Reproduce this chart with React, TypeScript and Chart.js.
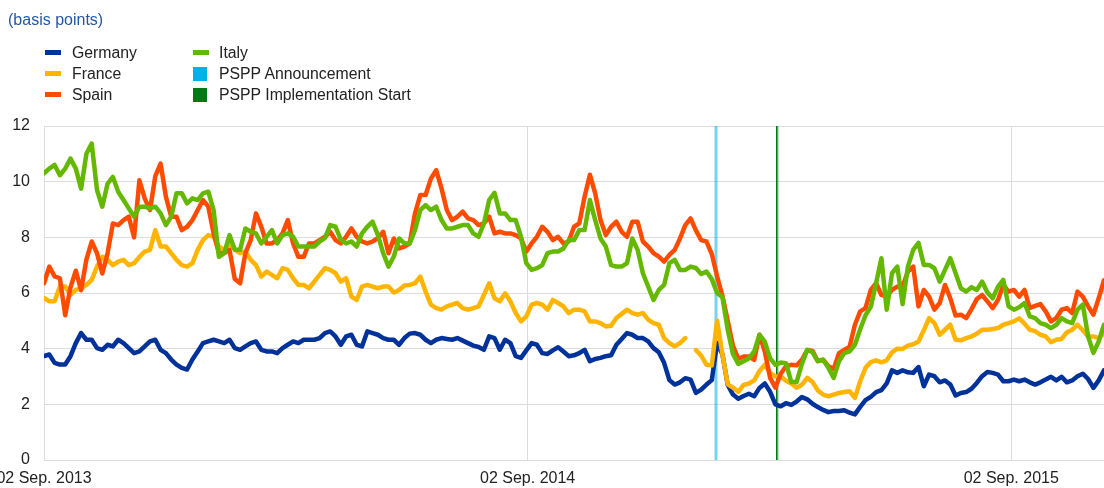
import React, { useEffect, useRef } from 'react';
import { Chart, registerables } from 'chart.js';

Chart.register(...registerables);

// X axis: days since 02 Sep. 2013, one sample every 4 days
const STEP_DAYS = 4;
const X_MAX_DAYS = 800;
const TICK_DAYS = [0, 365, 730];
const TICK_LABELS = ['02 Sep. 2013', '02 Sep. 2014', '02 Sep. 2015'];
const PSPP_ANNOUNCEMENT_DAY = 507; // 22 Jan. 2015
const PSPP_IMPLEMENTATION_DAY = 553; // 09 Mar. 2015

const germany = [
  3.73, 3.79, 3.49, 3.43, 3.43, 3.73, 4.2, 4.56, 4.32, 4.32, 4.02, 3.96, 4.14, 4.08, 4.32, 4.2, 4.02, 3.84, 3.9, 4.08,
  4.26, 4.32, 3.96, 3.84, 3.61, 3.43, 3.31, 3.25, 3.61, 3.9, 4.2, 4.26, 4.32, 4.26, 4.2, 4.32, 4.02, 3.96, 4.08, 4.2,
  4.26, 3.96, 3.9, 3.9, 3.84, 4.02, 4.14, 4.26, 4.2, 4.32, 4.32, 4.32, 4.38, 4.56, 4.62, 4.44, 4.14, 4.44, 4.5, 4.14,
  4.08, 4.62, 4.56, 4.5,
  4.38, 4.32, 4.32, 4.14, 4.38, 4.54, 4.56, 4.5, 4.32, 4.2, 4.32, 4.38, 4.35, 4.32, 4.38, 4.29, 4.2, 4.11, 4.06, 3.96,
  4.44, 4.38, 3.96, 4.32, 4.2, 3.73, 3.67, 3.94, 4.2, 4.14, 3.84, 3.81, 3.94, 4.05, 3.9, 3.73, 3.76, 3.84, 3.96, 3.55,
  3.63, 3.67, 3.73, 3.76, 4.14, 4.35, 4.56, 4.5, 4.38, 4.38, 4.26, 4.02, 3.87, 3.49, 2.87, 2.71, 2.79, 2.94, 2.89, 2.41,
  2.53, 2.71, 2.87,
  4.2, 3.8, 2.7, 2.35, 2.2, 2.3, 2.38, 2.29, 2.59, 2.75, 2.45, 2.0, 1.93, 2.04, 1.98, 2.1, 2.26, 2.18, 2.02, 1.9, 1.8,
  1.72, 1.76, 1.76, 1.79, 1.7, 1.64, 1.91, 2.15, 2.27, 2.44, 2.51, 2.75, 3.22, 3.13, 3.22, 3.15, 3.13, 3.34, 2.65, 3.07,
  3.01, 2.79, 2.86, 2.71, 2.32, 2.41, 2.44, 2.56, 2.77, 3.01, 3.16, 3.13, 3.07, 2.83, 2.83, 2.89, 2.83, 2.89, 2.79, 2.71,
  2.79, 2.89, 2.99, 2.86, 2.99, 2.79, 2.86, 3.01, 3.1, 2.91, 2.59, 2.86, 3.22,
];

const france = [
  5.82, 5.7, 5.7, 6.23, 6.23, 5.93, 6.11, 6.17, 6.29, 6.47, 6.95, 7.3, 7.19, 7.0, 7.13, 7.19, 7.0, 7.07, 7.3, 7.49,
  7.55, 8.26, 7.67, 7.67, 7.43, 7.19, 7.0, 6.95, 7.07, 7.55, 7.9, 8.08, 8.02, 7.67, 7.55, 7.78, 7.55, 7.43, 7.49, 7.19,
  7.0, 6.59, 6.77, 6.65, 6.53, 6.89, 6.83, 6.53, 6.29, 6.29, 6.17, 6.41, 6.65, 6.89, 6.83, 6.71, 6.41, 6.53, 5.87, 5.75,
  6.23, 6.29, 6.23, 6.17,
  6.23, 6.23, 6.02, 6.11, 6.27, 6.29, 6.35, 6.59, 6.05, 5.58, 5.46, 5.4, 5.52, 5.58, 5.64, 5.46, 5.4, 5.46, 5.52, 5.93,
  6.35, 5.81, 5.7, 5.99, 5.7, 5.28, 4.98, 5.16, 5.58, 5.64, 5.58, 5.4, 5.75, 5.64, 5.52, 5.28, 5.4, 5.4, 5.34, 4.98,
  4.98, 4.92, 4.8, 4.82, 5.1, 5.25, 5.4, 5.28, 5.22, 5.28, 5.04, 4.92, 4.86, 4.38, 4.2, 4.08, 4.2, 4.38, null, 3.95,
  3.75, 3.42, 3.4,
  5.0, 3.8, 2.72, 2.6, 2.45, 2.7, 2.75, 2.86, 3.2, 3.42, 3.12, 3.0, 3.0, 2.85, 2.75, 2.6, 2.7, 2.95, 2.8, 2.5, 2.35,
  2.29, 2.35, 2.41, 2.44, 2.47, 2.23, 2.83, 3.31, 3.52, 3.58, 3.51, 3.58, 3.87, 4.0, 3.99, 4.11, 4.16, 4.26, 4.66, 5.1,
  4.92, 4.5, 4.68, 4.86, 4.32, 4.3, 4.38, 4.44, 4.54, 4.68, 4.68, 4.71, 4.74, 4.86, 4.92, 4.98, 5.09, 4.9, 4.68, 4.63,
  4.5, 4.44, 4.23, 4.32, 4.35, 4.59, 4.68, 4.86, 4.66, 4.44, 4.44, 4.38, 4.56,
];

const spain = [
  6.35, 6.95, 6.6, 6.53, 5.2, 6.2, 6.8, 6.1, 7.2, 7.85, 7.43, 6.7, 7.43, 8.5, 8.44, 8.62, 8.74, 8.0, 10.05, 9.4,
  8.98, 10.2, 10.65, 9.46, 8.74, 8.74, 8.26, 8.38, 8.62, 8.98, 9.34, 9.1, 8.14, 7.43, 7.43, 7.55, 6.5, 6.35, 7.43, 7.9,
  8.86, 8.38, 7.78, 7.78, 7.9, 8.14, 8.62, 7.78, 7.3, 7.3, 7.78, 7.78, 7.9, 8.02, 8.2, 7.9, 7.78, 8.02, 8.32, 8.02,
  7.85, 7.78, 7.85, 7.97,
  8.2, 7.43, 7.96, 7.6, 7.67, 7.78, 8.86, 9.52, 9.52, 10.11, 10.41, 9.76, 8.98, 8.62, 8.74, 8.92, 8.68, 8.62, 8.44, 8.5,
  8.74, 8.14, 8.2, 8.14, 8.14, 8.08, 7.96, 7.49, 7.78, 8.02, 8.38, 8.2, 7.9, 8.02, 7.78, 7.85, 8.38, 8.5, 9.46, 10.25,
  9.58, 8.62, 8.08, 8.38, 8.56, 8.2, 8.02, 8.56, 8.56, 7.85, 7.67, 7.43, 7.31, 7.13, 7.37, 7.55, 7.96, 8.44, 8.68, 8.25,
  7.9, 7.85, 7.4,
  6.6, 5.9, 5.0, 4.1, 3.63, 3.72, 3.72, 3.6, 4.5, 3.9, 2.95, 2.6, 3.1, 3.37, 3.42, 3.4, 3.6, 3.95, 3.92, 3.55, 3.6,
  3.37, 3.27, 3.84, 3.96, 4.06, 4.86, 5.34, 5.46, 6.11, 6.35, 5.93, 5.87, 6.11, 6.23, 6.23, 6.77, 6.95, 5.52, 6.11, 5.87,
  5.4, 5.64, 6.29, 5.81, 5.19, 5.22, 5.1, 5.42, 5.78, 5.93, 5.7, 5.46, 5.75, 6.29, 6.05, 6.11, 5.87, 6.11, 5.46, 5.54,
  5.6, 5.34, 4.98, 5.1, 5.4, 5.46, 5.28, 6.05, 5.87, 5.52, 5.22, 5.81, 6.46,
];

const italy = [
  10.3, 10.47, 10.6, 10.23, 10.47, 10.83, 10.47, 9.75, 11.0, 11.37, 9.7, 9.1, 9.93, 10.17, 9.64, 9.34, 9.04, 8.74, 9.1, 9.1,
  9.04, 9.1, 8.86, 8.44, 8.74, 9.58, 9.58, 9.22, 9.4, 9.34, 9.58, 9.64, 8.98, 7.3, 7.43, 8.08, 7.55, 7.55, 8.32, 8.2,
  8.14, 7.78, 8.02, 8.26, 7.78, 8.08, 8.14, 8.02, 7.67, 7.67, 7.67, 7.67, 7.85, 7.97, 8.44, 8.38, 7.92, 7.78, 7.85, 7.67,
  8.14, 8.38, 8.56, 8.08,
  7.43, 6.95, 7.31, 7.96, 7.78, 7.78, 8.26, 8.98, 9.16, 8.98, 9.1, 8.62, 8.32, 8.32, 8.38, 8.44, 8.44, 8.14, 8.02, 8.5,
  9.34, 9.6, 8.86, 8.86, 8.62, 8.62, 8.02, 7.07, 6.83, 6.89, 7.0, 7.43, 7.49, 7.49, 7.6, 7.9, 7.9, 8.26, 8.26, 9.34,
  8.62, 7.96, 7.67, 7.0, 6.95, 6.95, 7.07, 7.96, 7.55, 6.71, 6.23, 5.75, 6.11, 6.29, 7.07, 7.19, 6.83, 6.83, 6.95, 6.9,
  6.68, 6.77, 6.5,
  6.0, 5.85, 4.68, 3.8, 3.45, 3.55, 3.65, 3.9, 4.5, 4.25, 3.65, 3.42, 3.5, 3.48, 2.8, 2.8, 3.45, 3.96, 3.87, 3.55, 3.6,
  3.31, 2.95, 3.55, 3.84, 3.9, 4.14, 4.7, 5.2, 5.5, 6.35, 7.25, 5.4, 6.71, 6.95, 5.6, 6.95, 7.55, 7.8, 7.01, 7.01,
  6.89, 6.41, 6.83, 7.25, 6.71, 6.17, 6.05, 6.21, 6.11, 6.41, 6.02, 5.81, 6.23, 6.47, 5.52, 5.4, 5.49, 5.64, 5.16, 5.1,
  4.92, 4.86, 4.74, 4.86, 5.1, 4.98, 4.92, 5.4, 5.58, 4.44, 3.85, 4.26, 4.86,
];

const COLORS = {
  germany: '#003299',
  france: '#ffb400',
  spain: '#ff4b00',
  italy: '#65b800',
  announcement: '#00b1ea',
  implementation: '#007816',
};

const FONT = '"Liberation Sans", Arial, Helvetica, sans-serif';

const toPoints = (values: (number | null)[]) => values.map((v, i) => ({ x: i * STEP_DAYS, y: v }));

const vlinePlugin = {
  id: 'psppLines',
  beforeDatasetsDraw(chart: any) {
    const { ctx, chartArea, scales } = chart;
    const xs = scales.x;
    const top = chartArea.top;
    const h = chartArea.bottom - chartArea.top;
    ctx.save();
    const xa = xs.getPixelForValue(PSPP_ANNOUNCEMENT_DAY);
    ctx.fillStyle = 'rgba(0,177,234,0.55)';
    ctx.fillRect(Math.round(xa) - 1.5, top, 3, h);
    const xi = xs.getPixelForValue(PSPP_IMPLEMENTATION_DAY);
    ctx.fillStyle = COLORS.implementation;
    ctx.fillRect(Math.round(xi) - 1, top, 1.6, h);
    ctx.fillStyle = 'rgba(0,120,22,0.25)';
    ctx.fillRect(Math.round(xi) + 0.6, top, 1.4, h);
    ctx.restore();
  },
};

const legendLeft = [
  { label: 'Germany', color: COLORS.germany, kind: 'line' },
  { label: 'France', color: COLORS.france, kind: 'line' },
  { label: 'Spain', color: COLORS.spain, kind: 'line' },
];
const legendRight = [
  { label: 'Italy', color: COLORS.italy, kind: 'line' },
  { label: 'PSPP Announcement', color: COLORS.announcement, kind: 'box' },
  { label: 'PSPP Implementation Start', color: COLORS.implementation, kind: 'box' },
];

function LegendColumn({ items, left, textLeft }: { items: any[]; left: number; textLeft: number }) {
  return (
    <>
      {items.map((it, i) => {
        const cy = 52.5 + i * 21;
        return (
          <React.Fragment key={it.label}>
            {it.kind === 'line' ? (
              <div style={{ position: 'absolute', left, top: cy - 2.5, width: 16, height: 5, background: it.color }} />
            ) : (
              <div style={{ position: 'absolute', left, top: cy - 7, width: 14, height: 14, background: it.color }} />
            )}
            <div
              style={{
                position: 'absolute',
                left: textLeft,
                top: cy - 10,
                height: 20,
                lineHeight: '20px',
                fontSize: 15.8,
                fontFamily: FONT,
                color: '#222',
                whiteSpace: 'nowrap',
              }}
            >
              {it.label}
            </div>
          </React.Fragment>
        );
      })}
    </>
  );
}

export default function App() {
  const canvasRef = useRef<HTMLCanvasElement | null>(null);

  useEffect(() => {
    if (!canvasRef.current) return;
    const tickFont = { family: FONT, size: 16 };
    const chart = new Chart(canvasRef.current, {
      type: 'line',
      data: {
        datasets: [
          { label: 'Germany', data: toPoints(germany), borderColor: COLORS.germany, order: 3 },
          { label: 'France', data: toPoints(france), borderColor: COLORS.france, order: 2 },
          { label: 'Spain', data: toPoints(spain), borderColor: COLORS.spain, order: 1 },
          { label: 'Italy', data: toPoints(italy), borderColor: COLORS.italy, order: 0 },
        ] as any,
      },
      options: {
        animation: false,
        responsive: false,
        maintainAspectRatio: false,
        layout: { padding: { left: 0, right: 0, top: 126, bottom: 0 } },
        elements: {
          point: { radius: 0 },
          line: { borderWidth: 4.5, tension: 0, borderJoinStyle: 'round', borderCapStyle: 'round' },
        },
        plugins: { legend: { display: false }, tooltip: { enabled: false } },
        scales: {
          x: {
            type: 'linear',
            min: 0,
            max: X_MAX_DAYS,
            grid: { color: '#dcdcdc', lineWidth: 1, drawTicks: false },
            border: { display: false },
            ticks: {
              font: tickFont,
              color: '#222',
              padding: 9,
              maxRotation: 0,
              autoSkip: false,
              callback: (v: any) => {
                const idx = TICK_DAYS.indexOf(Number(v));
                return idx >= 0 ? TICK_LABELS[idx] : null;
              },
            },
            afterBuildTicks: (scale: any) => {
              scale.ticks = TICK_DAYS.map((v) => ({ value: v }));
            },
            afterFit: (scale: any) => {
              scale.height = 28;
              scale.paddingLeft = 0;
              scale.paddingRight = 0;
            },
          } as any,
          y: {
            min: 0,
            max: 12,
            grid: { color: '#dcdcdc', lineWidth: 1, drawTicks: false },
            border: { display: false },
            ticks: { stepSize: 2, font: tickFont, color: '#222', padding: 14 },
            afterFit: (scale: any) => {
              scale.width = 44;
            },
          } as any,
        },
      },
      plugins: [vlinePlugin],
    });
    return () => chart.destroy();
  }, []);

  return (
    <div
      style={{
        position: 'fixed',
        left: 0,
        top: 0,
        width: 1104,
        height: 488,
        overflow: 'hidden',
        background: '#fff',
      }}
    >
      <canvas ref={canvasRef} width={1104} height={488} style={{ position: 'absolute', left: 0, top: 0 }} />
      <div
        style={{
          position: 'absolute',
          left: 8,
          top: 10,
          fontSize: 16,
          lineHeight: '20px',
          fontFamily: FONT,
          color: '#2356a8',
          whiteSpace: 'nowrap',
        }}
      >
        (basis points)
      </div>
      <LegendColumn items={legendLeft} left={45} textLeft={72} />
      <LegendColumn items={legendRight} left={193} textLeft={219} />
    </div>
  );
}
